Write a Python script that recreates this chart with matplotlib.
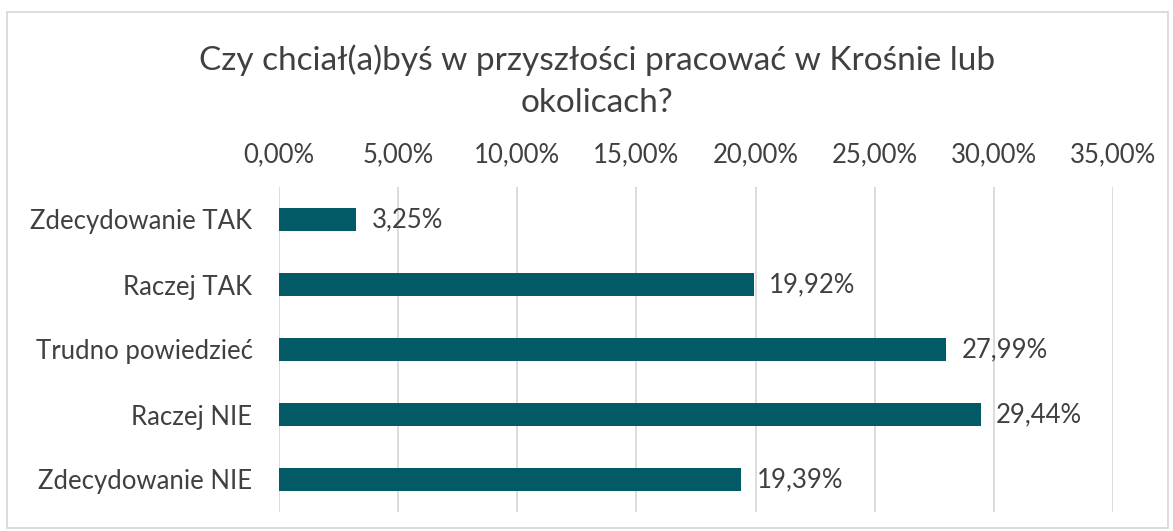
import matplotlib
matplotlib.use("Agg")
import matplotlib.pyplot as plt
from matplotlib.patches import Rectangle
from matplotlib.ticker import FuncFormatter

categories = ["Zdecydowanie TAK", "Raczej TAK", "Trudno powiedzieć",
              "Raczej NIE", "Zdecydowanie NIE"]
values = [3.25, 19.92, 27.99, 29.44, 19.39]
ticks = [0, 5, 10, 15, 20, 25, 30, 35]
title = "Czy chciał(a)byś w przyszłości pracować w Krośnie lub\nokolicach?"

BAR = "#015A65"
TXT = "#404040"
GRID = "#D9D9D9"

plt.rcParams["font.family"] = ["Lato", "DejaVu Sans"]

W, H = 1173, 531
fig = plt.figure(figsize=(W / 100, H / 100), dpi=100)
ax = fig.add_axes([279 / W, 1 - 512 / H, 834 / W, 325 / H])

y = list(range(len(categories)))
ax.barh(y, values, height=0.35, color=BAR, zorder=3)
for yi, v in zip(y, values):
    ax.text(v + 0.65, yi, f"{v:.2f}%".replace(".", ","), va="center", ha="left",
            fontsize=18.5, color=TXT)

ax.set_ylim(len(categories) - 0.5, -0.5)
ax.set_yticks(y)
ax.set_yticklabels(categories, fontsize=18.5, color=TXT)
ax.set_xlim(0, 35)
ax.set_xticks(ticks)
ax.xaxis.set_major_formatter(FuncFormatter(lambda x, p: f"{x:.2f}%".replace(".", ",")))
ax.xaxis.tick_top()
ax.tick_params(axis="x", labelsize=18.5, colors=TXT, length=0, pad=14)
ax.tick_params(axis="y", length=0, pad=19)
ax.grid(axis="x", color=GRID, lw=1.3, zorder=0)
for s in ax.spines.values():
    s.set_visible(False)

fig.text(0.509, 1 - 81 / H, title, ha="center", va="center", fontsize=24,
         color=TXT, linespacing=1.5)
fig.patches.append(Rectangle((7 / W, 1 - 528 / H), 1161 / W, 516 / H,
                             transform=fig.transFigure, fill=False,
                             edgecolor=GRID, lw=1.3))

fig.savefig("out.png", dpi=100)
